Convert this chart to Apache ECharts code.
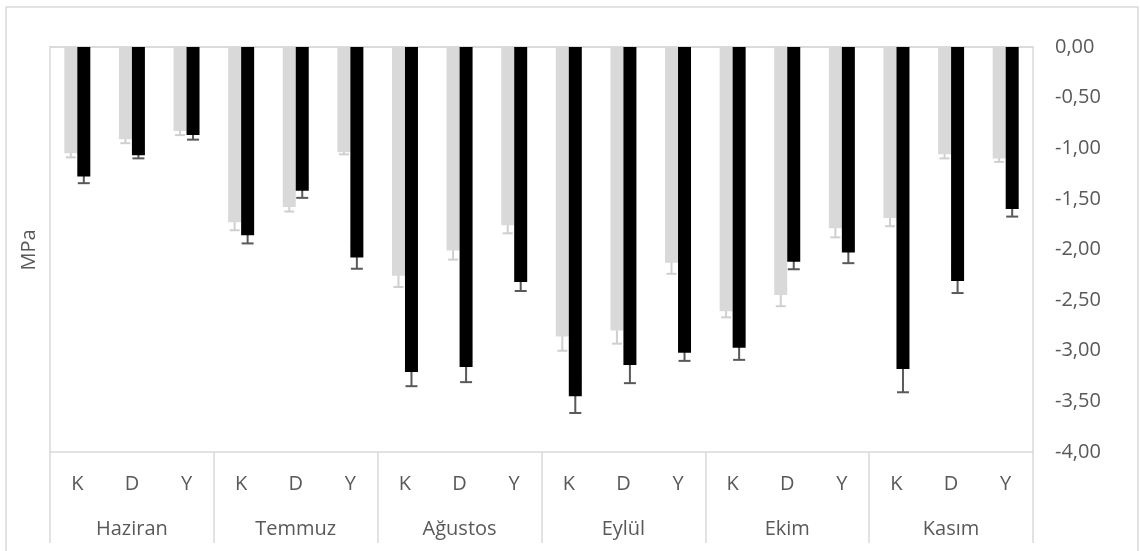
<!DOCTYPE html>
<html>
<head>
<meta charset="utf-8">
<script src="https://cdn.jsdelivr.net/npm/echarts@6/dist/echarts.min.js"></script>
<style>html,body{margin:0;padding:0;background:#fff;}#c{width:1140px;height:551px;}</style>
</head>
<body>
<div id="c"></div>
<script>
const months = ['Haziran', 'Temmuz', 'Ağustos', 'Eylül', 'Ekim', 'Kasım'];
const subLabels = ['K', 'D', 'Y'];
const grayValues = [-1.05, -0.91, -0.83, -1.73, -1.58, -1.04, -2.26, -2.01, -1.76, -2.86, -2.80, -2.13, -2.61, -2.45, -1.79, -1.69, -1.06, -1.10];
const grayErrors = [0.04, 0.04, 0.04, 0.08, 0.045, 0.02, 0.11, 0.09, 0.08, 0.14, 0.13, 0.11, 0.06, 0.11, 0.09, 0.08, 0.04, 0.035];
const blackValues = [-1.28, -1.07, -0.87, -1.86, -1.42, -2.08, -3.21, -3.16, -2.32, -3.45, -3.14, -3.02, -2.97, -2.12, -2.03, -3.18, -2.31, -1.60];
const blackErrors = [0.065, 0.03, 0.045, 0.08, 0.07, 0.11, 0.14, 0.15, 0.09, 0.165, 0.18, 0.08, 0.12, 0.075, 0.105, 0.23, 0.12, 0.075];
const yTicks = { min: -4, max: 0, interval: 0.5 };

const categories = [];
months.forEach(() => subLabels.forEach(s => categories.push(s)));

const FONT = 'Open Sans';
const TXT = '#595959';
const BORDER = '#d9d9d9';
const BAR_W = 13;

function errData(vals, errs) {
  return vals.map((v, i) => [i, v, errs[i]]);
}
function errRenderer(offset, color, capW) {
  return function (params, api) {
    const i = api.value(0), v = api.value(1), e = api.value(2);
    const top = api.coord([i, v + e]);
    const bot = api.coord([i, v - e]);
    const x = top[0] + offset;
    const st = { stroke: color, lineWidth: 2 };
    return {
      type: 'group',
      children: [
        { type: 'line', shape: { x1: x, y1: top[1], x2: x, y2: bot[1] }, style: st },
        { type: 'line', shape: { x1: x - capW / 2, y1: top[1], x2: x + capW / 2, y2: top[1] }, style: st },
        { type: 'line', shape: { x1: x - capW / 2, y1: bot[1], x2: x + capW / 2, y2: bot[1] }, style: st }
      ]
    };
  };
}

const chart = echarts.init(document.getElementById('c'), null, { renderer: 'canvas' });
chart.setOption({
  animation: false,
  backgroundColor: '#fff',
  textStyle: { fontFamily: FONT },
  grid: { left: 50, right: 107, top: 47, bottom: 99, show: true, borderColor: BORDER, borderWidth: 1.5, backgroundColor: 'transparent' },
  graphic: [
    { type: 'rect', shape: { x: 6, y: 7, width: 1132, height: 560 }, style: { fill: 'none', stroke: BORDER, lineWidth: 1.5 }, z: -1 },
    { type: 'text', x: 29, y: 250, rotation: Math.PI / 2, style: { text: 'MPa', fill: TXT, font: '20px "Open Sans"', textAlign: 'center', textVerticalAlign: 'middle' } }
  ],
  xAxis: [
    {
      type: 'category', data: categories, position: 'bottom',
      axisLine: { show: true, lineStyle: { color: BORDER, width: 1.5 } },
      axisTick: { show: false },
      axisLabel: { color: TXT, fontSize: 20, fontFamily: FONT, margin: 22, interval: 0 }
    },
    {
      type: 'category', data: months, position: 'bottom',
      axisLine: { show: false },
      axisTick: { show: true, length: 91, lineStyle: { color: BORDER, width: 1.5 } },
      axisLabel: { color: TXT, fontSize: 20, fontFamily: FONT, margin: 67, interval: 0 }
    }
  ],
  yAxis: {
    type: 'value', position: 'right', min: yTicks.min, max: yTicks.max, interval: yTicks.interval,
    axisLine: { show: false }, axisTick: { show: false }, splitLine: { show: false },
    axisLabel: { color: TXT, fontSize: 20, fontFamily: FONT, margin: 22, formatter: v => (Math.abs(v) < 1e-9 ? 0 : v).toFixed(2).replace('.', ',') }
  },
  series: [
    { type: 'bar', name: 'g', data: grayValues, barWidth: BAR_W, barGap: '0%', itemStyle: { color: '#d9d9d9' } },
    { type: 'custom', data: errData(grayValues, grayErrors), renderItem: errRenderer(-BAR_W / 2, '#cfcfcf', 10), encode: { x: 0, y: 1 } },
    { type: 'bar', name: 'b', data: blackValues, barWidth: BAR_W, barGap: '0%', itemStyle: { color: '#000000' } },
    { type: 'custom', data: errData(blackValues, blackErrors), renderItem: errRenderer(BAR_W / 2, '#595959', 12), encode: { x: 0, y: 1 } }
  ]
});
</script>
</body>
</html>
